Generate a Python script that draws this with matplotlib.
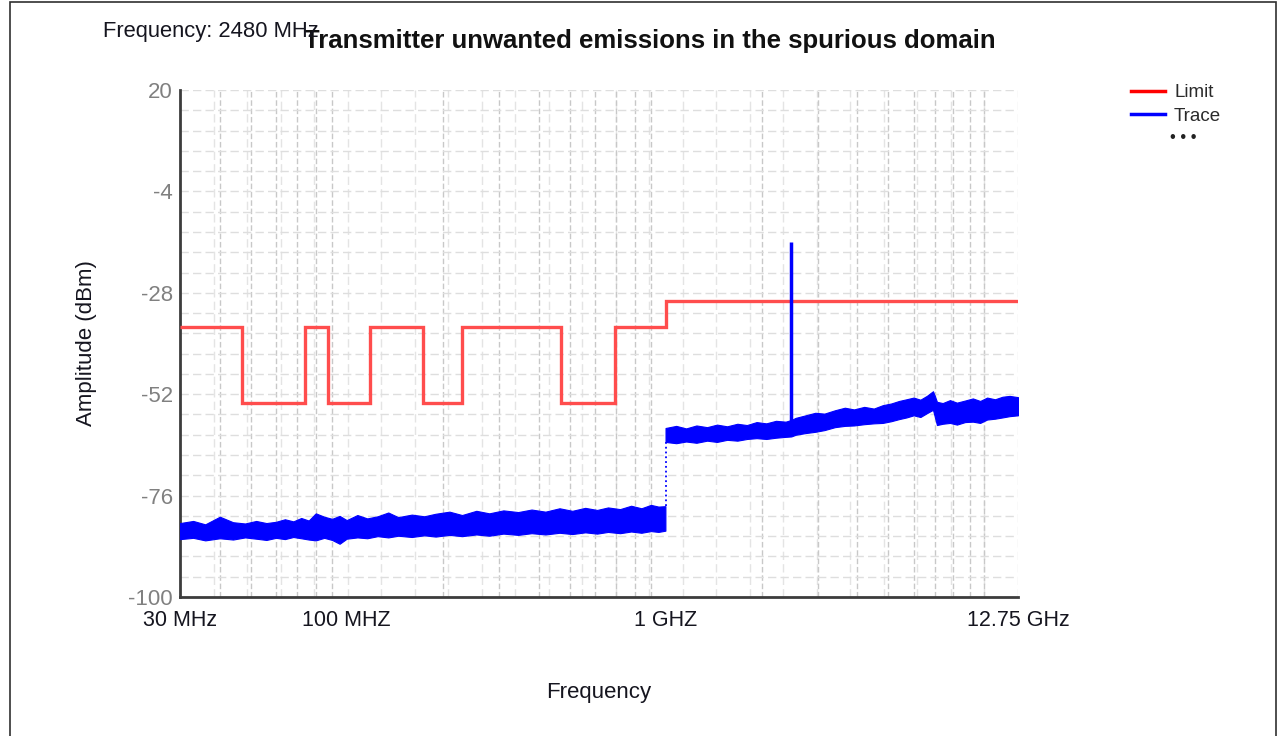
import matplotlib
matplotlib.use("Agg")
import matplotlib.pyplot as plt
from matplotlib.lines import Line2D
from matplotlib.patches import Rectangle
from matplotlib.ticker import FixedLocator, LogLocator, NullFormatter
import numpy as np

plt.rcParams['font.family'] = ['Liberation Sans', 'DejaVu Sans']
plt.rcParams['axes.unicode_minus'] = False

# limit mask: band edges in MHz, level in dBm for each band
limit_edges = [30, 47, 74, 87.5, 118, 174, 230, 470, 694, 1000, 12750]
limit_levels = [-36, -54, -36, -54, -36, -54, -36, -54, -36, -30]

# measured trace below 1 GHz (upper / lower edge of the noise band)
low_freq = [30, 33, 36, 40, 44, 48, 52, 56, 60, 64,
            68, 72, 76, 80, 85, 90, 95, 100, 108, 116,
            125, 135, 145, 160, 175, 190, 210, 230, 255, 280,
            310, 345, 380, 420, 465, 510, 560, 610, 660, 720,
            780, 840, 900, 950, 999]
low_top = [-82.5, -82.0, -82.8, -81.0, -82.3, -82.6, -82.0, -82.5, -82.2, -81.6,
           -82.1, -81.3, -81.9, -80.2, -81.0, -81.5, -80.8, -81.8, -80.6, -81.4,
           -80.9, -80.0, -81.1, -80.5, -80.9, -80.3, -79.8, -80.6, -79.6, -80.2,
           -79.5, -79.9, -79.3, -79.8, -79.0, -79.6, -78.9, -79.4, -78.8, -79.2,
           -78.4, -79.0, -78.2, -78.6, -78.5]
low_bot = [-86.3, -86.0, -86.6, -86.1, -86.4, -85.9, -86.2, -86.5, -86.0, -86.3,
           -85.8, -86.1, -86.4, -86.6, -86.0, -86.5, -87.4, -86.2, -85.9, -86.1,
           -85.6, -85.9, -85.5, -85.8, -85.4, -85.7, -85.3, -85.6, -85.2, -85.5,
           -85.0, -85.3, -84.9, -85.2, -84.8, -85.1, -84.7, -85.0, -84.6, -84.9,
           -84.5, -84.8, -84.4, -84.6, -84.3]

# measured trace 1 GHz - 12.75 GHz
high_freq = [1000, 1080, 1160, 1250, 1350, 1450, 1560, 1680, 1800, 1930,
             2070, 2220, 2380, 2480, 2560, 2750, 2950, 3150, 3400, 3650,
             3900, 4200, 4500, 4800, 5100, 5400, 5700, 6000, 6300, 6600,
             6900, 7000, 7100, 7400, 7800, 8200, 8700, 9200, 9700, 10200,
             10800, 11400, 12000, 12750]
high_top = [-60.0, -59.5, -60.1, -59.4, -59.8, -59.2, -59.6, -59.0, -59.3, -58.6,
            -58.9, -58.3, -58.5, -58.1, -57.6, -57.0, -56.4, -56.6, -55.8, -55.2,
            -55.6, -55.0, -55.4, -54.6, -54.2, -53.6, -53.2, -52.8, -53.3, -52.4,
            -51.3, -52.5, -53.8, -54.1, -53.4, -54.0, -53.5, -53.0, -53.6, -52.8,
            -53.2, -52.6, -52.4, -52.7]
high_bot = [-63.3, -63.6, -63.2, -63.5, -63.0, -63.3, -62.8, -63.0, -62.6, -62.4,
            -62.6, -62.3, -62.1, -62.0, -61.6, -61.2, -60.9, -60.5, -59.8, -59.5,
            -59.4, -59.1, -58.9, -58.8, -58.4, -57.9, -57.5, -57.0, -57.4, -56.5,
            -55.7, -57.5, -59.3, -59.0, -58.8, -59.2, -58.6, -58.5, -58.8, -58.0,
            -57.8, -57.5, -57.2, -57.0]

# carrier spike
peak_freq = 2480
peak_base = -59.0
peak_level = -16

x_ticks = [30, 100, 1000, 12750]
x_labels = ['30 MHz', '100 MHZ', '1 GHZ', '12.75 GHz']
y_ticks = [20, -4, -28, -52, -76, -100]

W, H = 1287, 736
fig = plt.figure(figsize=(W / 100, H / 100), dpi=100)
ax = fig.add_axes([180 / W, 1 - 597 / H, 838 / W, 507 / H])
ax.set_xscale('log')
ax.set_xlim(30, 12750)
ax.set_ylim(-100, 20)
ax.set_axisbelow(True)

# grid
ax.xaxis.set_major_locator(FixedLocator(x_ticks))
ax.set_xticklabels(x_labels)
ax.xaxis.set_minor_locator(LogLocator(base=10, subs=np.arange(1, 10), numticks=100))
ax.xaxis.set_minor_formatter(NullFormatter())
ax.set_yticks(y_ticks)
ax.yaxis.set_minor_locator(FixedLocator(np.linspace(-100, 20, 26)))
ax.grid(which='minor', axis='x', color='#c8c8c8', linestyle=(0, (4, 2)), lw=1)
ax.grid(which='both', axis='y', color='#dedede', linestyle=(0, (6, 3)), lw=1)
for xv in np.logspace(np.log10(30), np.log10(12750), 26):
    ax.axvline(xv, color='#e4e4e4', linestyle=(0, (6, 3)), lw=1, zorder=0.5)

# limit
ax.stairs(limit_levels, limit_edges, baseline=None, color='#ff4d4d', lw=2.4, zorder=3)

# trace
ax.fill_between(low_freq, low_bot, low_top, color='#0000ff', lw=0.8, zorder=4)
ax.fill_between(high_freq, high_bot, high_top, color='#0000ff', lw=0.8, zorder=4)
ax.vlines(high_freq[0], low_top[-1], high_bot[0], colors='#0000ff', linestyles=':', lw=1.3, zorder=4)
ax.vlines(peak_freq, peak_base, peak_level, colors='#0000ff', lw=2.5, zorder=4)

for side in ['top', 'right']:
    ax.spines[side].set_visible(False)
for side in ['left', 'bottom']:
    ax.spines[side].set_color('#3c3c3c')
    ax.spines[side].set_linewidth(2)

ax.tick_params(axis='both', which='both', length=0)
ax.tick_params(axis='x', pad=9, labelsize=15.5, labelcolor='#15151f')
ax.tick_params(axis='y', pad=5, labelsize=16, labelcolor='#808080')

ax.set_xlabel('Frequency', fontsize=16, color='#15151f')
ax.xaxis.set_label_coords(0.5, -0.168)
ax.set_ylabel('Amplitude (dBm)', fontsize=16, color='#15151f')
ax.yaxis.set_label_coords(-0.099, 0.5)

fig.text(650 / W, 1 - 41 / H, 'Transmitter unwanted emissions in the spurious domain',
         ha='center', va='center', fontsize=18.5, fontweight='bold', color='#111111')
fig.text(103 / W, 1 - 37 / H, 'Frequency: 2480 MHz', ha='left', va='baseline',
         fontsize=15.8, color='#15151f')

handles = [Line2D([], [], color='#ff0000', lw=2.5, label='Limit'),
           Line2D([], [], color='#0000ff', lw=2.5, label='Trace')]
fig.legend(handles=handles, loc='upper left', bbox_to_anchor=(1131 / W, 1 - 84 / H),
           frameon=False, fontsize=13.5, handlelength=1.8, handletextpad=0.5,
           labelspacing=0.36, borderpad=0, borderaxespad=0, labelcolor='#2a2a2a')
fig.text(1183 / W, 1 - 138 / H, '• • •', ha='center', va='center', fontsize=12, color='#222222')

fig.add_artist(Rectangle((10 / W, -0.01), 1266 / W, 1.01 - 2 / H, transform=fig.transFigure,
                         fill=False, ec='#303030', lw=1.2))

fig.savefig('out.png', dpi=100)
